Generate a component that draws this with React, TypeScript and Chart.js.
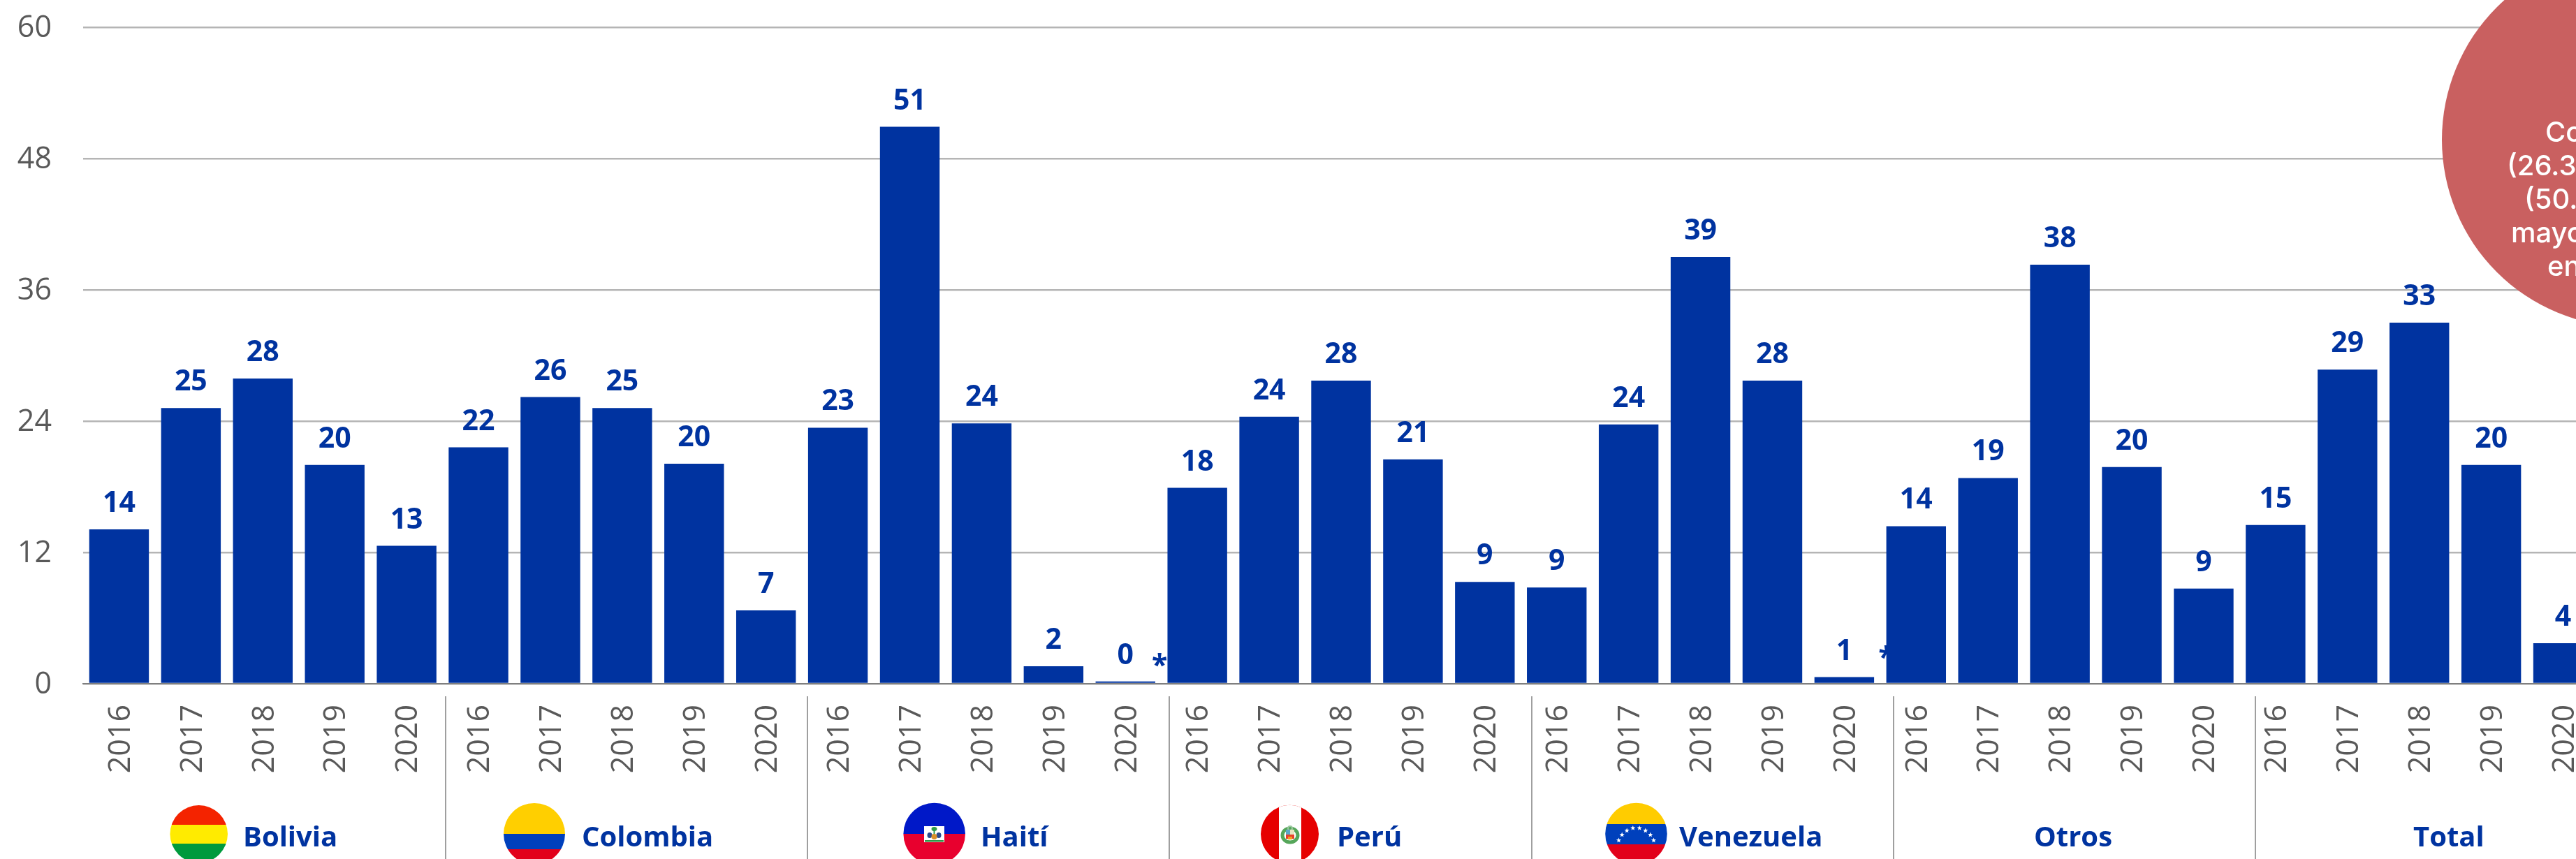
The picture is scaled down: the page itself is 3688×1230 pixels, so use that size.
import React, { useEffect, useRef } from "react";
import { Chart, registerables } from "chart.js";

Chart.register(...registerables);

const years = ["2016", "2017", "2018", "2019", "2020"];
const groups = ["Bolivia", "Colombia", "Haití", "Perú", "Venezuela", "Otros", "Total"];
const bolivia = [14.1, 25.2, 27.9, 20.0, 12.6];
const colombia = [21.6, 26.2, 25.2, 20.1, 6.7];
const haiti = [23.4, 50.9, 23.8, 1.6, 0.2];
const peru = [17.9, 24.4, 27.7, 20.5, 9.3];
const venezuela = [8.8, 23.7, 39.0, 27.7, 0.6];
const otros = [14.4, 18.8, 38.3, 19.8, 8.7];
const total = [14.5, 28.7, 33.0, 20.0, 3.7];
const yTicks = [0, 12, 24, 36, 48, 60];
const calloutLines = ["Co", "(26.3", "(50.", "mayo", "en"];

const allSeries = [bolivia, colombia, haiti, peru, venezuela, otros, total];
const categories = groups.flatMap((g) => years.map((y) => `${g} ${y}`));
const yearLabels = groups.flatMap(() => years);
const values = allSeries.flat();

const BLUE = "#0033A0";
const GREY = "#595959";
const FONT = '"Open Sans"';

function clipCircle(ctx: CanvasRenderingContext2D, cx: number, cy: number, r: number, draw: () => void) {
  ctx.save();
  ctx.beginPath();
  ctx.arc(cx, cy, r, 0, Math.PI * 2);
  ctx.clip();
  draw();
  ctx.restore();
}

function star(ctx: CanvasRenderingContext2D, x: number, y: number, r: number) {
  ctx.beginPath();
  for (let i = 0; i < 10; i++) {
    const a = -Math.PI / 2 + (i * Math.PI) / 5;
    const rr = i % 2 ? r * 0.42 : r;
    ctx.lineTo(x + Math.cos(a) * rr, y + Math.sin(a) * rr);
  }
  ctx.closePath();
  ctx.fill();
}

function drawFlags(ctx: CanvasRenderingContext2D) {
  const band = (c: string, x: number, y: number, w: number, h: number) => {
    ctx.fillStyle = c;
    ctx.fillRect(x, y, w, h);
  };
  const blob = (c: string, x: number, y: number, rx: number, ry: number) => {
    ctx.fillStyle = c;
    ctx.beginPath();
    ctx.ellipse(x, y, rx, ry, 0, 0, Math.PI * 2);
    ctx.fill();
  };
  // Bolivia
  clipCircle(ctx, 284.7, 1194.3, 41.3, () => {
    band("#F42300", 240, 1150, 90, 31);
    band("#FFEB00", 240, 1181, 90, 27);
    band("#009A3D", 240, 1208, 90, 32);
  });
  // Colombia
  clipCircle(ctx, 765, 1194, 44, () => {
    band("#FFCF00", 720, 1148, 90, 46);
    band("#0040BC", 720, 1194, 90, 22);
    band("#E2001A", 720, 1216, 90, 24);
  });
  // Haití
  clipCircle(ctx, 1337.7, 1194, 44.3, () => {
    band("#0018C8", 1292, 1148, 92, 46);
    band("#E8002E", 1292, 1194, 92, 46);
    band("#FFFFFF", 1323, 1183, 29, 23);
    blob("#2E9A48", 1337.5, 1187, 4, 3);
    band("#2E9A48", 1336.5, 1187, 2, 10);
    blob("#2C4A8E", 1331, 1196, 3.5, 4);
    blob("#2C4A8E", 1344, 1196, 3.5, 4);
    blob("#D9902A", 1337.5, 1198, 4, 4);
    band("#2E9A48", 1324, 1203, 27, 2.5);
  });
  // Perú
  clipCircle(ctx, 1846.5, 1194.3, 41.5, () => {
    band("#E60000", 1802, 1150, 90, 90);
    band("#FFFFFF", 1831, 1150, 32, 90);
    ctx.strokeStyle = "#55A65A";
    ctx.lineWidth = 5;
    ctx.beginPath();
    ctx.ellipse(1847, 1196, 11, 10, 0, 0, Math.PI * 2);
    ctx.stroke();
    ctx.strokeStyle = "#9CC9A0";
    ctx.lineWidth = 2;
    ctx.beginPath();
    ctx.arc(1847, 1186, 3, 0, Math.PI * 2);
    ctx.stroke();
    band("#5BA8C8", 1841, 1188, 6, 7);
    band("#E8E4C0", 1847, 1188, 6, 7);
    band("#E8402A", 1841, 1195, 12, 6);
    band("#F0A020", 1844, 1198, 6, 4);
  });
  // Venezuela
  clipCircle(ctx, 2342.5, 1194, 44.3, () => {
    band("#FFCC00", 2298, 1148, 90, 32);
    band("#0040BC", 2298, 1180, 90, 29);
    band("#E2001A", 2298, 1209, 90, 31);
    ctx.fillStyle = "#FFFFFF";
    const starDx = [-25, -20.3, -13.3, -4.7, 4.7, 13.3, 20.3, 25];
    const starY = [1203.3, 1195.3, 1189.3, 1185.7, 1185.7, 1189.3, 1195.3, 1203.3];
    starDx.forEach((dx, i) => star(ctx, 2342.5 + dx, starY[i], 3.8));
  });
}

const overlay = {
  id: "overlay",
  beforeDatasetsDraw(chart: any) {
    const { ctx, scales } = chart;
    // asterisks sit behind the bars, next to the two 2020 bars they annotate
    ctx.save();
    ctx.fillStyle = BLUE;
    ctx.font = `bold 41px ${FONT}`;
    ctx.textAlign = "center";
    ctx.textBaseline = "alphabetic";
    ctx.fillText("*", scales.x.getPixelForValue(14) + 49, 966);
    ctx.fillText("*", scales.x.getPixelForValue(24) + 60, 955);
    ctx.restore();
  },
  afterDatasetsDraw(chart: any) {
    const { ctx } = chart;
    const bars = chart.getDatasetMeta(0).data;
    ctx.save();
    // value labels
    ctx.fillStyle = BLUE;
    ctx.font = `bold 41px ${FONT}`;
    ctx.textAlign = "center";
    ctx.textBaseline = "alphabetic";
    bars.forEach((bar: any, i: number) => {
      ctx.fillText(String(Math.round(values[i])), bar.x, bar.y - 25);
    });

    // group separators
    ctx.strokeStyle = "#7F7F7F";
    ctx.lineWidth = 1.5;
    for (let i = 0; i < groups.length - 1; i++) {
      const x = Math.round(638 + i * 518.2);
      ctx.beginPath();
      ctx.moveTo(x, 997);
      ctx.lineTo(x, 1230);
      ctx.stroke();
    }

    drawFlags(ctx);

    // group names
    const groupX = [348, 833, 1404, 1914, 2404, 2912, 3455];
    ctx.fillStyle = BLUE;
    ctx.font = `bold 40px ${FONT}`;
    ctx.textAlign = "left";
    groups.forEach((g, i) => ctx.fillText(g, groupX[i], 1212));

    // callout circle, cut by the right edge of the picture
    ctx.fillStyle = "#C96060";
    ctx.beginPath();
    ctx.arc(3764, 200, 268, 0, Math.PI * 2);
    ctx.fill();
    const lineX = [3644, 3589, 3614, 3595, 3647];
    const lineY = [203, 251, 299, 347, 395];
    ctx.fillStyle = "#FFFFFF";
    ctx.font = `500 40px Inter`;
    calloutLines.forEach((t, i) => ctx.fillText(t, lineX[i], lineY[i]));
    ctx.restore();
  },
};

export default function App() {
  const ref = useRef<HTMLCanvasElement>(null);
  useEffect(() => {
    const chart = new Chart(ref.current!, {
      type: "bar",
      data: {
        labels: categories,
        datasets: [
          {
            data: values,
            backgroundColor: BLUE,
            categoryPercentage: 1,
            barPercentage: 0.83,
          },
        ],
      },
      options: {
        animation: false,
        responsive: false,
        layout: { padding: { top: 39, left: 0, right: 0, bottom: 0 } },
        plugins: { legend: { display: false }, tooltip: { enabled: false } },
        scales: {
          x: {
            grid: { display: false, drawTicks: false },
            border: { color: "#7F7F7F", width: 2 },
            afterFit: (s: any) => {
              s.height = 251;
              s.paddingLeft = 0;
              s.paddingRight = 0;
            },
            ticks: {
              autoSkip: false,
              minRotation: 90,
              maxRotation: 90,
              padding: 30,
              labelOffset: 3,
              color: GREY,
              font: { family: FONT, size: 43 },
              callback: (_v: any, i: number) => yearLabels[i],
            },
          },
          y: {
            min: 0,
            max: 60,
            afterFit: (s: any) => {
              s.width = 119;
              s.paddingTop = 0;
              s.paddingBottom = 0;
            },
            afterBuildTicks: (s: any) => {
              s.ticks = yTicks.map((value) => ({ value }));
            },
            grid: { color: "#B5B5B5", lineWidth: 2.5, drawTicks: false },
            border: { display: false },
            ticks: {
              padding: 45,
              labelOffset: 2,
              color: GREY,
              font: { family: FONT, size: 43 },
            },
          },
        },
      },
      plugins: [overlay],
    });
    return () => chart.destroy();
  }, []);
  return (
    <div style={{ position: "fixed", left: 0, top: 0, width: 3688, height: 1230, overflow: "hidden", background: "#fff" }}>
      <canvas ref={ref} width={3721} height={1230} style={{ display: "block" }} />
    </div>
  );
}
